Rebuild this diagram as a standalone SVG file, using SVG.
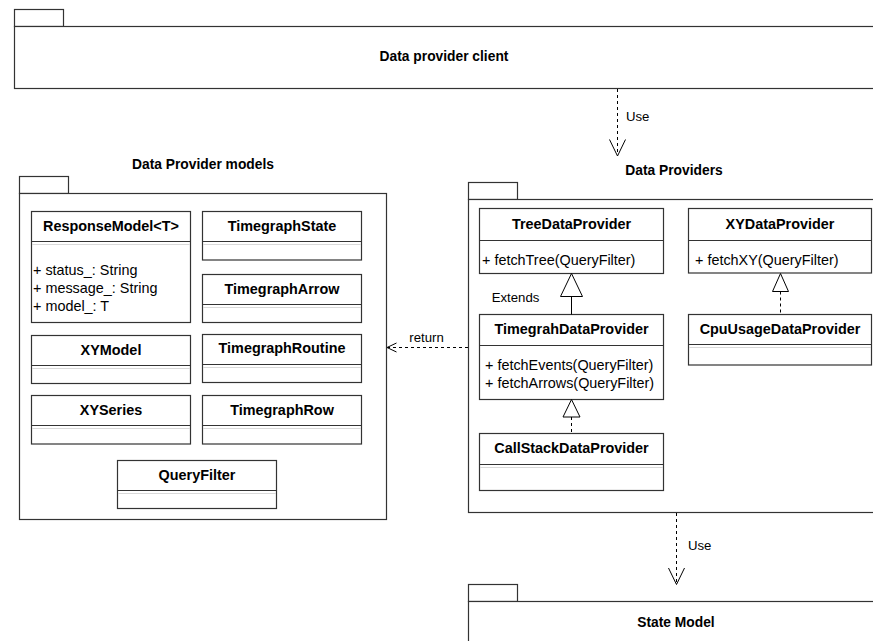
<svg xmlns="http://www.w3.org/2000/svg" width="873" height="641" viewBox="0 0 873 641">
  <style>
    .pkg { fill: #ffffff; stroke: #333333; stroke-width: 1.2; }
    .cls { fill: #ffffff; stroke: #333333; stroke-width: 1.2; }
    .sep { stroke: #333333; stroke-width: 1.2; fill: none; }
    .sep2 { stroke: #d9d9d9; stroke-width: 1; fill: none; }
    .title { font-family: "Liberation Sans", Arial, sans-serif; font-size: 14.4px; font-weight: bold; fill: #000000; text-anchor: middle; }
    .pkgtitle { font-family: "Liberation Sans", Arial, sans-serif; font-size: 13.8px; font-weight: bold; fill: #000000; text-anchor: middle; }
    .member { font-family: "Liberation Sans", Arial, sans-serif; font-size: 14.4px; fill: #000000; }
    .label { font-family: "Liberation Sans", Arial, sans-serif; font-size: 13.2px; fill: #000000; }
    .dash { stroke: #000000; stroke-width: 1; fill: none; stroke-dasharray: 3 3; }
    .solid { stroke: #000000; stroke-width: 1; fill: none; }
    .open { stroke: #000000; stroke-width: 1; fill: none; }
    .tri { stroke: #000000; stroke-width: 1; fill: #ffffff; }
  </style>

  <!-- Package: Data provider client -->
  <g id="pkg-client">
    <rect class="pkg" x="14.5" y="9.5" width="49" height="17"/>
    <rect class="pkg" x="14.5" y="26.5" width="870" height="62"/>
    <text class="pkgtitle" x="444" y="61">Data provider client</text>
  </g>

  <!-- Package: Data Provider models -->
  <g id="pkg-models">
    <text class="pkgtitle" x="203" y="169">Data Provider models</text>
    <rect class="pkg" x="19.5" y="176.5" width="49" height="17"/>
    <rect class="pkg" x="19.5" y="193.5" width="367" height="326"/>
  </g>

  <g id="cls-responsemodel">
    <rect class="cls" x="31.5" y="211.5" width="159" height="111"/>
    <line class="sep" x1="31.5" y1="241.5" x2="190.5" y2="241.5"/>
    <line class="sep2" x1="32" y1="244.5" x2="190" y2="244.5"/>
    <text class="title" x="111" y="231">ResponseModel&lt;T&gt;</text>
    <text class="member" x="33" y="274.5">+ status_: String</text>
    <text class="member" x="33" y="292.5">+ message_: String</text>
    <text class="member" x="33" y="310.5">+ model_: T</text>
  </g>

  <g id="cls-timegraphstate">
    <rect class="cls" x="202.5" y="211.5" width="159" height="48.5"/>
    <line class="sep" x1="202.5" y1="241.5" x2="361.5" y2="241.5"/>
    <line class="sep2" x1="203" y1="244.5" x2="361" y2="244.5"/>
    <text class="title" x="282" y="231">TimegraphState</text>
  </g>

  <g id="cls-timegrapharrow">
    <rect class="cls" x="202.5" y="274.5" width="159" height="48"/>
    <line class="sep" x1="202.5" y1="304.5" x2="361.5" y2="304.5"/>
    <line class="sep2" x1="203" y1="307.5" x2="361" y2="307.5"/>
    <text class="title" x="282" y="294">TimegraphArrow</text>
  </g>

  <g id="cls-xymodel">
    <rect class="cls" x="31.5" y="335.5" width="159" height="48"/>
    <line class="sep" x1="31.5" y1="365.5" x2="190.5" y2="365.5"/>
    <line class="sep2" x1="32" y1="368.5" x2="190" y2="368.5"/>
    <text class="title" x="111" y="355">XYModel</text>
  </g>

  <g id="cls-timegraphroutine">
    <rect class="cls" x="202.5" y="334.5" width="159" height="48"/>
    <line class="sep" x1="202.5" y1="364.5" x2="361.5" y2="364.5"/>
    <line class="sep2" x1="203" y1="367.5" x2="361" y2="367.5"/>
    <text class="title" x="282" y="353">TimegraphRoutine</text>
  </g>

  <g id="cls-xyseries">
    <rect class="cls" x="31.5" y="395.5" width="159" height="48.5"/>
    <line class="sep" x1="31.5" y1="425.5" x2="190.5" y2="425.5"/>
    <line class="sep2" x1="32" y1="428.5" x2="190" y2="428.5"/>
    <text class="title" x="111" y="415">XYSeries</text>
  </g>

  <g id="cls-timegraphrow">
    <rect class="cls" x="202.5" y="395.5" width="159" height="48.5"/>
    <line class="sep" x1="202.5" y1="425.5" x2="361.5" y2="425.5"/>
    <line class="sep2" x1="203" y1="428.5" x2="361" y2="428.5"/>
    <text class="title" x="282" y="415">TimegraphRow</text>
  </g>

  <g id="cls-queryfilter">
    <rect class="cls" x="117.5" y="460.5" width="159" height="48"/>
    <line class="sep" x1="117.5" y1="490.5" x2="276.5" y2="490.5"/>
    <line class="sep2" x1="118" y1="493.5" x2="276" y2="493.5"/>
    <text class="title" x="197" y="480">QueryFilter</text>
  </g>

  <!-- Package: Data Providers -->
  <g id="pkg-providers">
    <text class="pkgtitle" x="674" y="175">Data Providers</text>
    <rect class="pkg" x="468.5" y="182.5" width="49" height="17"/>
    <rect class="pkg" x="468.5" y="199.5" width="420" height="313"/>
  </g>

  <g id="cls-treedataprovider">
    <rect class="cls" x="479.5" y="208.5" width="184" height="65"/>
    <line class="sep" x1="479.5" y1="240.5" x2="663.5" y2="240.5"/>
    <text class="title" x="571.5" y="228.5">TreeDataProvider</text>
    <text class="member" x="482" y="265">+ fetchTree(QueryFilter)</text>
  </g>

  <g id="cls-xydataprovider">
    <rect class="cls" x="688.5" y="208.5" width="183" height="64.5"/>
    <line class="sep" x1="688.5" y1="240.5" x2="871.5" y2="240.5"/>
    <text class="title" x="780" y="228.5">XYDataProvider</text>
    <text class="member" x="695" y="265">+ fetchXY(QueryFilter)</text>
  </g>

  <g id="cls-timegrahdataprovider">
    <rect class="cls" x="479.5" y="314.5" width="184" height="85"/>
    <line class="sep" x1="479.5" y1="345.5" x2="663.5" y2="345.5"/>
    <text class="title" x="571.5" y="333.5">TimegrahDataProvider</text>
    <text class="member" x="485" y="370">+ fetchEvents(QueryFilter)</text>
    <text class="member" x="485" y="387.5">+ fetchArrows(QueryFilter)</text>
  </g>

  <g id="cls-cpuusagedataprovider">
    <rect class="cls" x="688.5" y="314.5" width="183" height="50.5"/>
    <line class="sep" x1="688.5" y1="344.5" x2="871.5" y2="344.5"/>
    <line class="sep2" x1="689" y1="347.5" x2="871" y2="347.5"/>
    <text class="title" x="780" y="333.5">CpuUsageDataProvider</text>
  </g>

  <g id="cls-callstackdataprovider">
    <rect class="cls" x="479.5" y="433.5" width="184" height="57"/>
    <line class="sep" x1="479.5" y1="464.5" x2="663.5" y2="464.5"/>
    <line class="sep2" x1="480" y1="467.5" x2="663" y2="467.5"/>
    <text class="title" x="571.5" y="452.5">CallStackDataProvider</text>
  </g>

  <!-- Package: State Model -->
  <g id="pkg-statemodel">
    <rect class="pkg" x="468.5" y="584.5" width="49" height="17"/>
    <rect class="pkg" x="468.5" y="601.5" width="420" height="60"/>
    <text class="pkgtitle" x="676" y="627">State Model</text>
  </g>

  <!-- Connectors -->
  <g id="connectors">
    <!-- client uses providers -->
    <line class="dash" x1="617.5" y1="89" x2="617.5" y2="155"/>
    <polyline class="open" points="609.5,139.5 617.5,156 625.5,139.5"/>
    <text class="label" x="626" y="120.5">Use</text>

    <!-- providers use state model -->
    <line class="dash" x1="676.5" y1="513" x2="676.5" y2="583.5"/>
    <polyline class="open" points="668.5,568 676.5,584.5 684.5,568"/>
    <text class="label" x="688" y="550">Use</text>

    <!-- providers return models -->
    <line class="dash" x1="468" y1="347.5" x2="388" y2="347.5"/>
    <polyline class="open" points="396.5,343 387,347.5 396.5,352"/>
    <text class="label" x="426.5" y="342" text-anchor="middle">return</text>

    <!-- TimegrahDataProvider extends TreeDataProvider -->
    <line class="solid" x1="571.5" y1="296.5" x2="571.5" y2="314.5"/>
    <polygon class="tri" points="571.5,273.5 582.5,296.5 560.5,296.5"/>
    <text class="label" x="515.5" y="302" text-anchor="middle">Extends</text>

    <!-- CpuUsageDataProvider realizes XYDataProvider -->
    <line class="dash" x1="780.5" y1="291.5" x2="780.5" y2="314.5"/>
    <polygon class="tri" points="780.5,273.5 788.5,291.5 772.5,291.5"/>

    <!-- CallStackDataProvider realizes TimegrahDataProvider -->
    <line class="dash" x1="571.5" y1="417" x2="571.5" y2="433.5"/>
    <polygon class="tri" points="571.5,399.5 580,417 563,417"/>
  </g>
</svg>
